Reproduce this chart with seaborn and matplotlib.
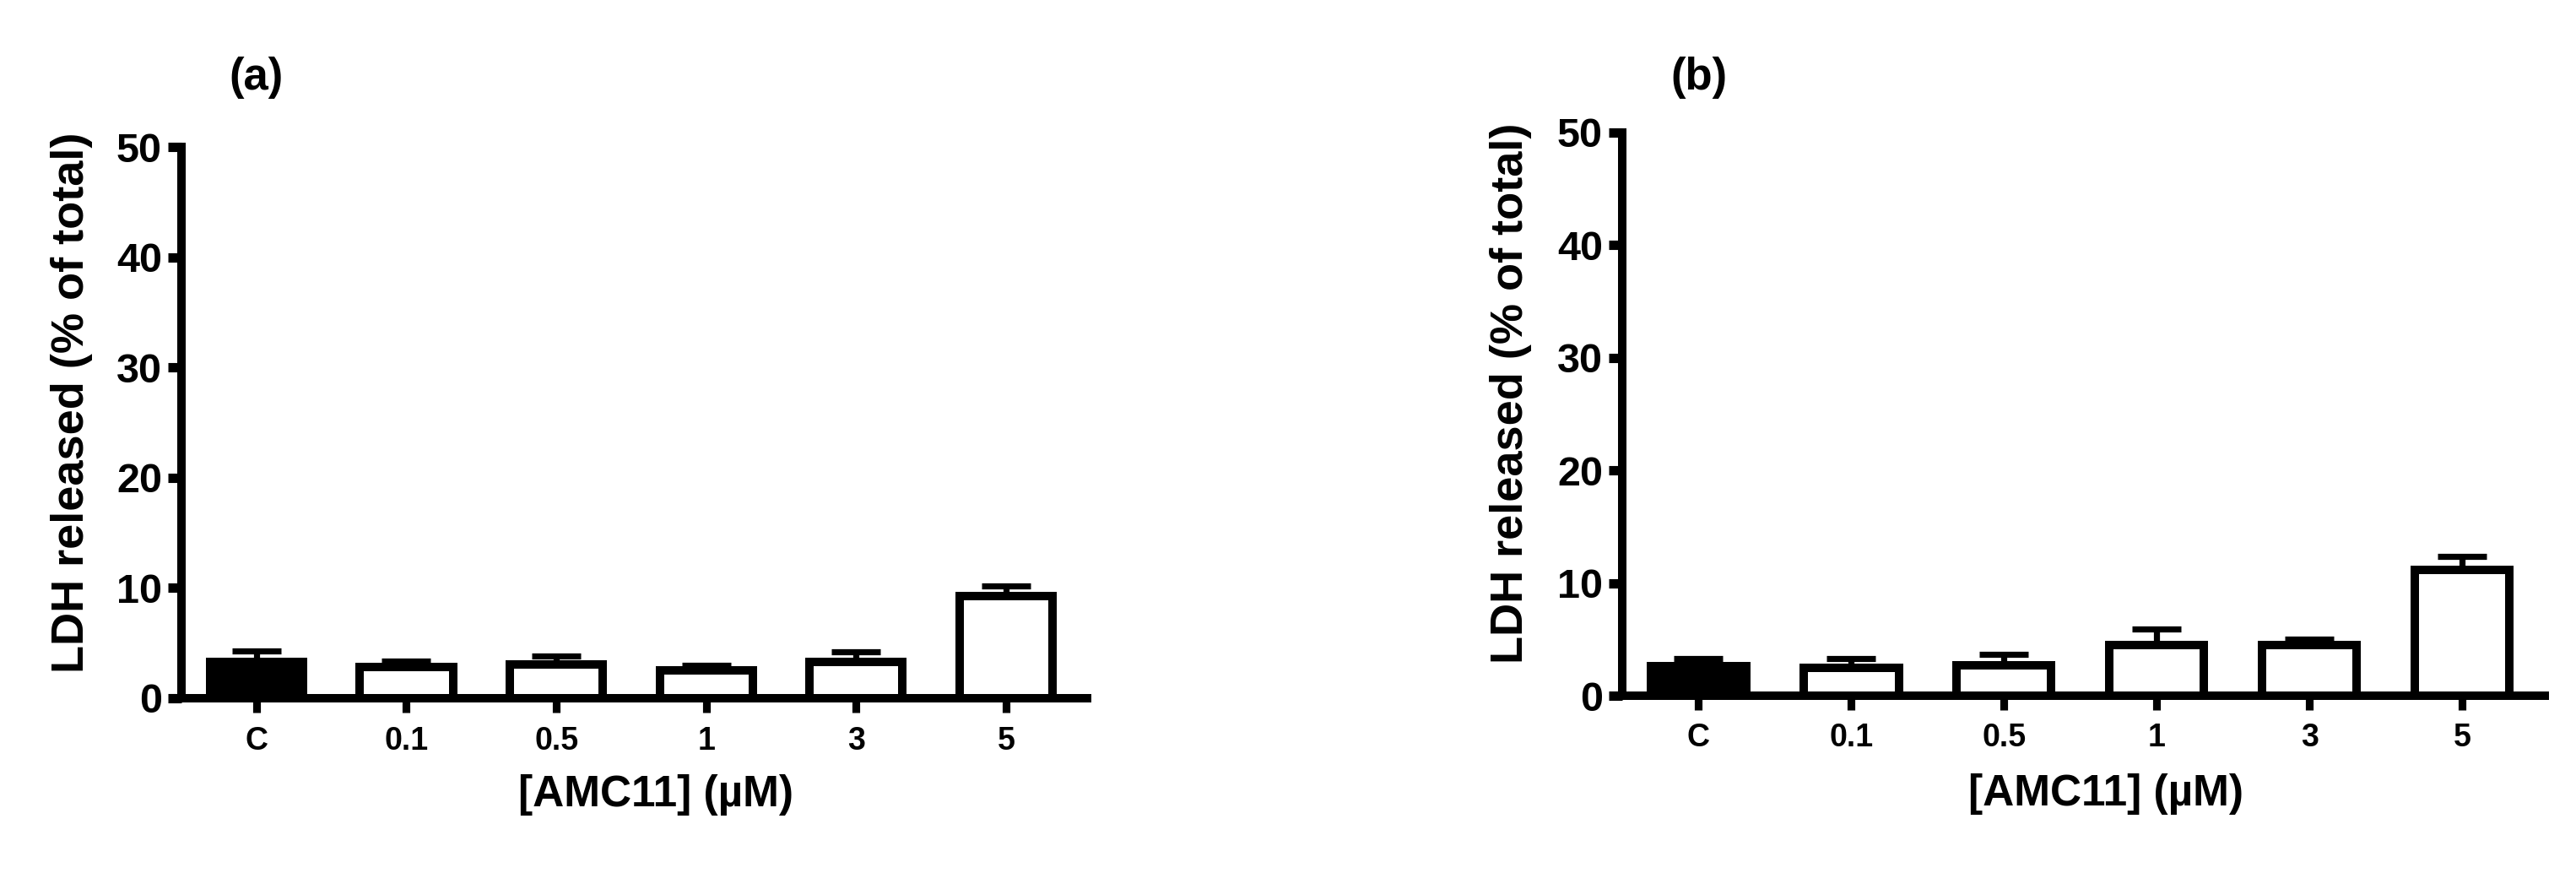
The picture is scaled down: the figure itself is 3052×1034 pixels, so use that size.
"""
plot.py
LDH release after AMC11 treatment, two panels (a) and (b)
"""

import numpy as np
import pandas as pd
import matplotlib
matplotlib.use('Agg')
import matplotlib.pyplot as plt
import seaborn as sns

# Data
doses = ['C', '0.1', '0.5', '1', '3', '5']
ldh_a = [3.3, 2.8, 3.1, 2.5, 3.3, 9.3]
err_a = [1.0, 0.6, 0.7, 0.5, 0.9, 0.9]
ldh_b = [2.6, 2.5, 2.7, 4.5, 4.5, 11.2]
err_b = [0.7, 0.8, 1.0, 1.4, 0.5, 1.2]
panel_labels = ['(a)', '(b)']
y_ticks = [0, 10, 20, 30, 40, 50]

bar_colors = ['black'] + ['white'] * 5

sns.set_theme(style='ticks')
plt.rcParams['font.family'] = ['Liberation Sans', 'DejaVu Sans']
plt.rcParams['font.weight'] = 'bold'
plt.rcParams['axes.labelweight'] = 'bold'

W, H = 3052, 1034
fig = plt.figure(figsize=(W / 200, H / 200), dpi=200)

# axes boxes in pixels: left, bottom(zero line), width, height
boxes = [(215, 827, 1073, 653), (1922, 824, 1093, 667)]


def draw_panel(ax, values, errs):
    df = pd.DataFrame({'dose': doses, 'ldh': values})
    sns.barplot(data=df, x='dose', y='ldh', hue='dose', order=doses,
                palette=bar_colors, edgecolor='black', linewidth=3.6,
                width=0.62, legend=False, errorbar=None, ax=ax, zorder=2)
    ax.errorbar(np.arange(len(doses)), values,
                yerr=[np.zeros(len(errs)), errs], fmt='none', ecolor='black',
                elinewidth=2.6, capsize=10.6, capthick=2.6, zorder=1)

    ax.set_xlim(-0.5, 5.54)
    ax.set_ylim(0, 50)
    ax.set_yticks(y_ticks)
    for side in ['top', 'right']:
        ax.spines[side].set_visible(False)
    for side in ['left', 'bottom']:
        ax.spines[side].set_linewidth(3.6)
        ax.spines[side].set_color('black')
    ax.tick_params(axis='y', direction='out', length=5.8, width=4.0,
                   pad=2.5, labelsize=17.5, colors='black')
    ax.tick_params(axis='x', direction='out', length=6.2, width=3.3,
                   pad=5.5, labelsize=13.5, colors='black')
    for t in ax.get_xticklabels() + ax.get_yticklabels():
        t.set_fontweight('bold')

    ax.set_ylabel('LDH released (% of total)', fontsize=19.5,
                  fontweight='bold', color='black', va='center')
    ax.yaxis.set_label_coords(-0.121, 0.537)
    ax.set_xlabel('[AMC11] (µM)', fontsize=18.5, fontweight='bold',
                  color='black', va='center')
    ax.xaxis.set_label_coords(0.524, -0.175)
    ax.set_facecolor('white')


for (left, zero, width, height), vals, errs, lab in zip(
        boxes, [ldh_a, ldh_b], [err_a, err_b], panel_labels):
    ax = fig.add_axes([left / W, 1 - zero / H, width / W, height / H])
    draw_panel(ax, vals, errs)
    # panel label above the first category
    x_c = (left + 0.5 / 6.04 * width) / W
    fig.text(x_c, 1 - 92 / H, lab, ha='center', va='center', fontsize=19,
             fontweight='bold', color='black')

fig.savefig('out.png', dpi=200, facecolor='white')
